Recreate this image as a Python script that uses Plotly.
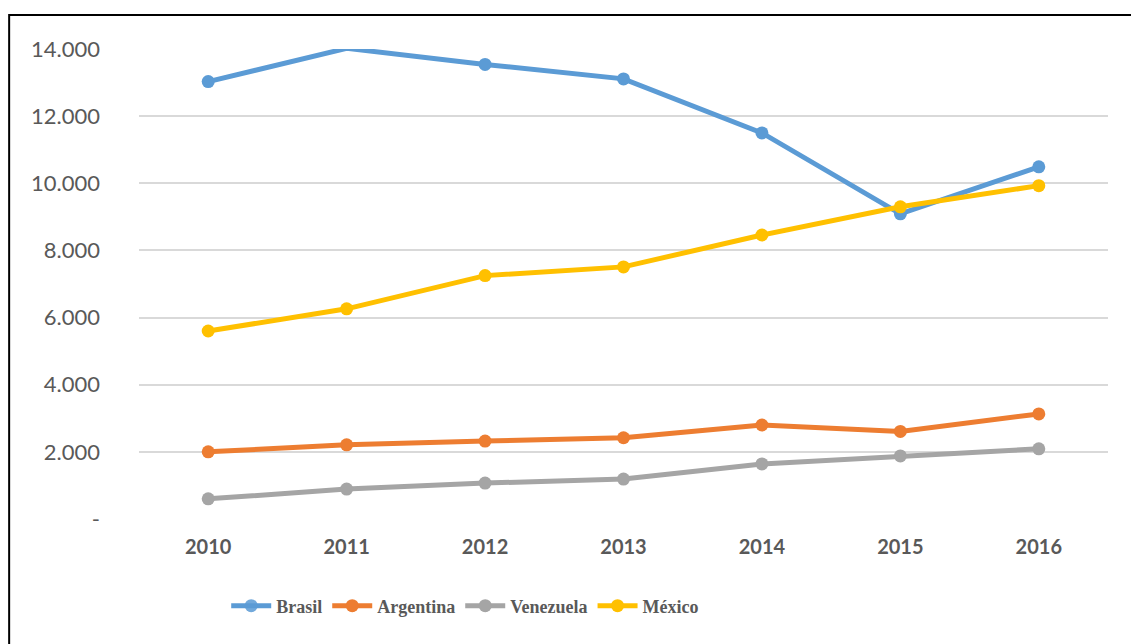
"""Line chart: Brasil, Argentina, Venezuela, México 2010-2016."""

import plotly.graph_objects as go

years = ["2010", "2011", "2012", "2013", "2014", "2015", "2016"]

brasil = [13030, 14020, 13540, 13110, 11500, 9090, 10490]
argentina = [2000, 2210, 2320, 2420, 2800, 2610, 3130]
venezuela = [600, 890, 1070, 1190, 1640, 1880, 2090]
mexico = [5600, 6260, 7250, 7510, 8460, 9300, 9930]

y_ticks = [0, 2000, 4000, 6000, 8000, 10000, 12000, 14000]
y_labels = ["-", "2.000", "4.000", "6.000", "8.000", "10.000", "12.000", "14.000"]

series = [
    ("Brasil", brasil, "#5B9BD5"),
    ("Argentina", argentina, "#ED7D31"),
    ("Venezuela", venezuela, "#A5A5A5"),
    ("México", mexico, "#FFC000"),
]

y_max = y_ticks[-1]

fig = go.Figure()

# one trace per country, drawn in legend order (México ends on top)
for name, vals, color in series:
    # like Excel: a marker whose point lies above the axis max is not drawn
    opac = [0 if v > y_max else 1 for v in vals]
    fig.add_trace(go.Scatter(
        x=years,
        y=vals,
        name=name,
        mode="lines+markers",
        line=dict(color=color, width=5),
        marker=dict(color=color, size=13, opacity=opac, line=dict(width=0)),
    ))

#layout settings
fig.update_layout(
    width=1131,
    height=644,
    paper_bgcolor="white",
    plot_bgcolor="white",
    margin=dict(l=139, r=23, t=49, b=125),
    font=dict(family="Lato, Carlito, sans-serif", color="#595959"),
    xaxis=dict(
        type="category",
        range=[-0.5, 6.5],
        showgrid=False,
        zeroline=False,
        showline=False,
        tickfont=dict(size=20, family="Lato, sans-serif", weight="bold", color="#595959"),
        ticklabelstandoff=14,
    ),
    yaxis=dict(
        range=[0, y_max],
        tickvals=y_ticks,
        ticktext=y_labels,
        showgrid=True,
        gridcolor="#D9D9D9",
        gridwidth=1.5,
        zeroline=False,
        showline=False,
        tickfont=dict(size=22, color="#595959"),
        ticklabelstandoff=38,
    ),
    legend=dict(
        orientation="h",
        x=0.090,
        xanchor="left",
        y=-0.185,
        yanchor="middle",
        font=dict(family="Liberation Serif, Times New Roman, serif", size=18,
                  weight="bold", color="#595959"),
        itemwidth=40,
        tracegroupgap=0,
    ),
    showlegend=True,
)

# outer chart border (runs off the right and bottom edges)
fig.add_shape(
    type="rect",
    xref="paper", yref="paper",
    x0=-0.134, x1=1.2, y0=-0.4, y1=1.0723,
    line=dict(color="black", width=2),
    fillcolor="rgba(0,0,0,0)",
    layer="above",
)

# drop the default page margin so the chart sits at the window's top-left
fig.write_html(
    "out.html",
    config={"displayModeBar": False},
    post_script="document.body.style.margin='0';",
)
